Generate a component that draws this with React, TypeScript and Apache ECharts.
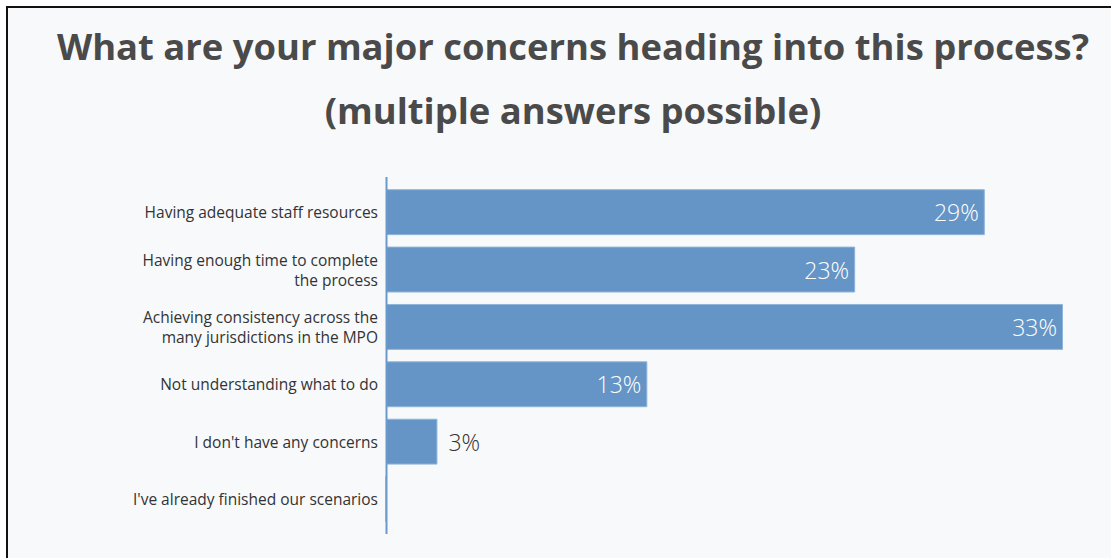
import React, { useEffect, useRef } from "react";
import * as echarts from "echarts";

const titleLines = [
  "What are your major concerns heading into this process?",
  "(multiple answers possible)",
];

const categories = [
  "Having adequate staff resources",
  "Having enough time to complete\nthe process",
  "Achieving consistency across the\nmany jurisdictions in the MPO",
  "Not understanding what to do",
  "I don't have any concerns",
  "I've already finished our scenarios",
];

// share of respondents (%); labels show rounded values
const shares = [29.1, 22.8, 32.9, 12.7, 2.5, 0];

const FONT = "'Open Sans', 'Noto Sans', sans-serif";
const BAR = "#6495c6";

export default function App() {
  const ref = useRef<HTMLDivElement>(null);
  useEffect(() => {
    if (!ref.current) return;
    const chart = echarts.init(ref.current, undefined, { renderer: "svg" });
    chart.setOption({
      animation: false,
      backgroundColor: "#ffffff",
      title: {
        text: titleLines.join("\n"),
        left: 568,
        top: 9,
        textAlign: "center",
        textStyle: {
          fontFamily: FONT,
          fontWeight: 700,
          fontSize: 36.4,
          lineHeight: 64,
          color: "#4a4a4a",
        },
      },
      graphic: [
        {
          type: "rect",
          z: -10,
          silent: true,
          shape: { x: 7, y: 7, width: 1200, height: 700 },
          style: { fill: "#f8f9fb", stroke: "#111111", lineWidth: 2 },
        },
        {
          type: "line",
          z: 10,
          silent: true,
          shape: { x1: 386.5, y1: 177, x2: 386.5, y2: 534 },
          style: { stroke: "#6a9acb", lineWidth: 2 },
        },
      ],
      grid: { left: 386, right: 48, top: 183.5, bottom: 558 - 527.7, containLabel: false },
      xAxis: {
        type: "value",
        min: 0,
        max: "dataMax",
        show: false,
      },
      yAxis: {
        type: "category",
        data: categories.map((c) =>
          c.indexOf("\n") >= 0
            ? { value: c, textStyle: { padding: [0, 0, 10, 0] } }
            : c
        ),
        inverse: true,
        axisLine: { show: false },
        axisTick: { show: false },
        axisLabel: {
          margin: 8,
          fontFamily: FONT,
          fontSize: 15.5,
          lineHeight: 20,
          color: "#333333",
          align: "right",
        },
      },
      series: [
        {
          type: "bar",
          data: shares.map((v) => ({
            value: v,
            label:
              v > 0 && v < 6
                ? { position: "right", distance: 11, color: "#333333" }
                : undefined,
          })),
          barCategoryGap: "20%",
          itemStyle: { color: BAR, borderColor: "#8fb4da", borderWidth: 1 },
          label: {
            show: true,
            position: "insideRight",
            distance: 6,
            color: "#ffffff",
            fontFamily: FONT,
            fontWeight: 300,
            fontSize: 23,
            formatter: (p: any) => (p.value > 0 ? Math.round(p.value) + "%" : ""),
          },
        },
      ],
    });
    return () => chart.dispose();
  }, []);
  return (
    <div
      ref={ref}
      style={{ position: "fixed", left: 0, top: 0, width: 1111, height: 558 }}
    />
  );
}
